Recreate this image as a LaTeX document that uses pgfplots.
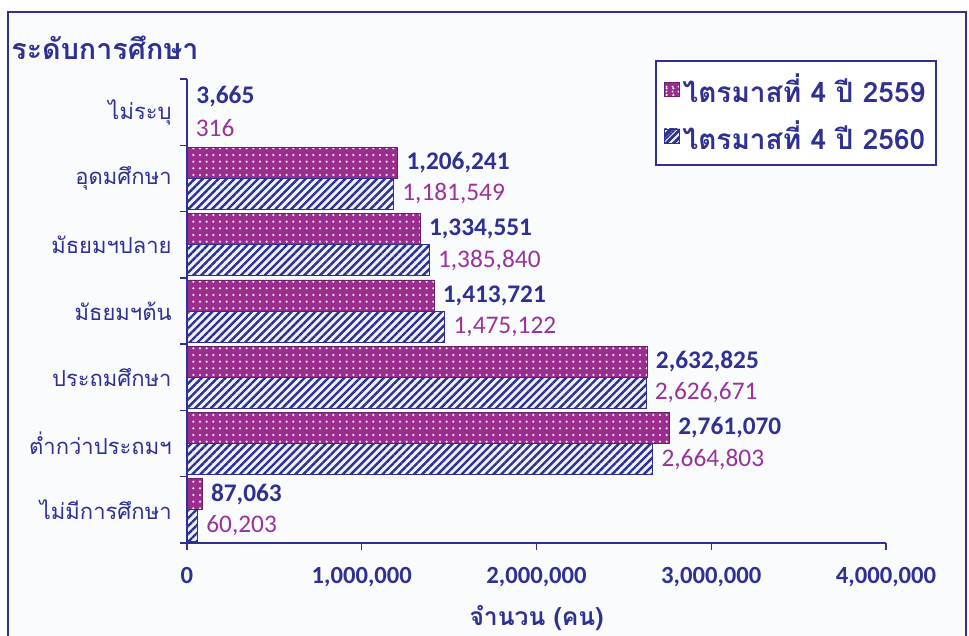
\documentclass[border=0pt]{standalone}
\usepackage{fontspec}
\usepackage{pgfplots}
\usepackage{pgfplotstable}
\pgfplotsset{compat=1.18}
\usetikzlibrary{patterns.meta}
\newfontfamily\thai[Script=Thai]{Loma}
\newfontfamily\carl{Carlito}
\definecolor{navy}{HTML}{2E3192}
\definecolor{mag}{HTML}{9B2D8E}
\definecolor{maglab}{HTML}{993399}
\definecolor{hatchbg}{HTML}{EEF3FA}
\definecolor{framebg}{HTML}{FAFBFD}

\pgfplotstableread{
c v lab
0 87063 87,063
1 2761070 2,761,070
2 2632825 2,632,825
3 1413721 1,413,721
4 1334551 1,334,551
5 1206241 1,206,241
6 3665 3,665
}\dataA
\pgfplotstableread{
c v lab
0 60203 60,203
1 2664803 2,664,803
2 2626671 2,626,671
3 1475122 1,475,122
4 1385840 1,385,840
5 1181549 1,181,549
6 316 316
}\dataB

\begin{document}
\begin{tikzpicture}
\path[use as bounding box] (0,0) rectangle (726.75pt,476.25pt);
\draw[navy, line width=1.5pt, fill=framebg] (6pt,-5pt) rectangle (724.5pt,467.25pt);
\node[anchor=west, text=navy, font=\thai\bfseries\fontsize{21.5}{23}\selectfont] at (5pt,440.25pt) {ระดับการศึกษา};
\begin{axis}[
  at={(140.25pt,69pt)}, anchor=south west,
  scale only axis, width=524.25pt, height=348pt,
  xbar, bar width=23.3pt,
  xmin=0, xmax=4000000,
  ymin=-0.5, ymax=6.5,
  axis x line*=bottom, axis y line*=left,
  axis line style={navy, line width=1.2pt},
  every tick/.style={navy, line width=1pt},
  tick align=outside,
  xtick={0,1000000,2000000,3000000,4000000},
  xticklabels={0,{1,000,000},{2,000,000},{3,000,000},{4,000,000}},
  major tick length=5pt,
  ytick={0,...,6},
  yticklabels={ไม่มีการศึกษา,ต่ำกว่าประถมฯ,ประถมศึกษา,มัธยมฯต้น,มัธยมฯปลาย,อุดมศึกษา,ไม่ระบุ},
  minor ytick={-0.5,0.5,...,6.5},
  ytick style={draw=none},
  minor tick length=5pt,
  minor y tick style={navy, line width=1pt, draw=navy},
  xticklabel style={font=\carl\bfseries\fontsize{18.5}{19}\selectfont, text=navy, yshift=-10pt},
  yticklabel style={font=\thai\fontsize{16.5}{18}\selectfont, text=navy, xshift=-3pt},
  xlabel={จำนวน (คน)},
  xlabel style={font=\thai\bfseries\fontsize{18.5}{20}\selectfont, text=navy, yshift=-7pt},
  scaled x ticks=false,
  clip=false,
  point meta=explicit symbolic,
  nodes near coords,
  legend style={at={(0.6695,1.041)}, anchor=north west, draw=navy, line width=1.2pt,
    fill=white, font=\thai\bfseries\fontsize{21}{23}\selectfont, text=navy,
    inner xsep=6pt, inner ysep=8pt, row sep=8pt, minimum width=0pt},
  legend cell align=left,
]
\addplot[bar shift=11.65pt, fill=mag, draw=mag!70!black, line width=0.6pt,
  postaction={pattern={Dots[distance=5pt,radius=0.9pt]}, pattern color=white!90!mag},
  every node near coord/.append style={font=\carl\bfseries\fontsize{19}{20}\selectfont, text=navy, anchor=west, xshift=3pt},
  legend image code/.code={\draw[line width=0.6pt, fill=mag, draw=mag!70!black, postaction={pattern={Dots[distance=4pt,radius=0.8pt]}, pattern color=white}] (0pt,-5.5pt) rectangle (11pt,5.5pt);}]
  table[x=v, y=c, meta=lab] {\dataA};
\addplot[bar shift=-11.65pt, fill=hatchbg, draw=navy, line width=0.6pt,
  postaction={pattern={Lines[angle=45,distance=4.2pt,line width=1.8pt]}, pattern color=navy},
  every node near coord/.append style={font=\carl\fontsize{19}{20}\selectfont, text=maglab, anchor=west, xshift=3pt},
  legend image code/.code={\draw[line width=0.6pt, fill=hatchbg, draw=navy, postaction={pattern={Lines[angle=45,distance=3pt,line width=1.2pt]}, pattern color=navy}] (0pt,-5.5pt) rectangle (11pt,5.5pt);}]
  table[x=v, y=c, meta=lab] {\dataB};
\legend{ไตรมาสที่ 4 ปี 2559, ไตรมาสที่ 4 ปี 2560}
\end{axis}
\end{tikzpicture}
\end{document}
